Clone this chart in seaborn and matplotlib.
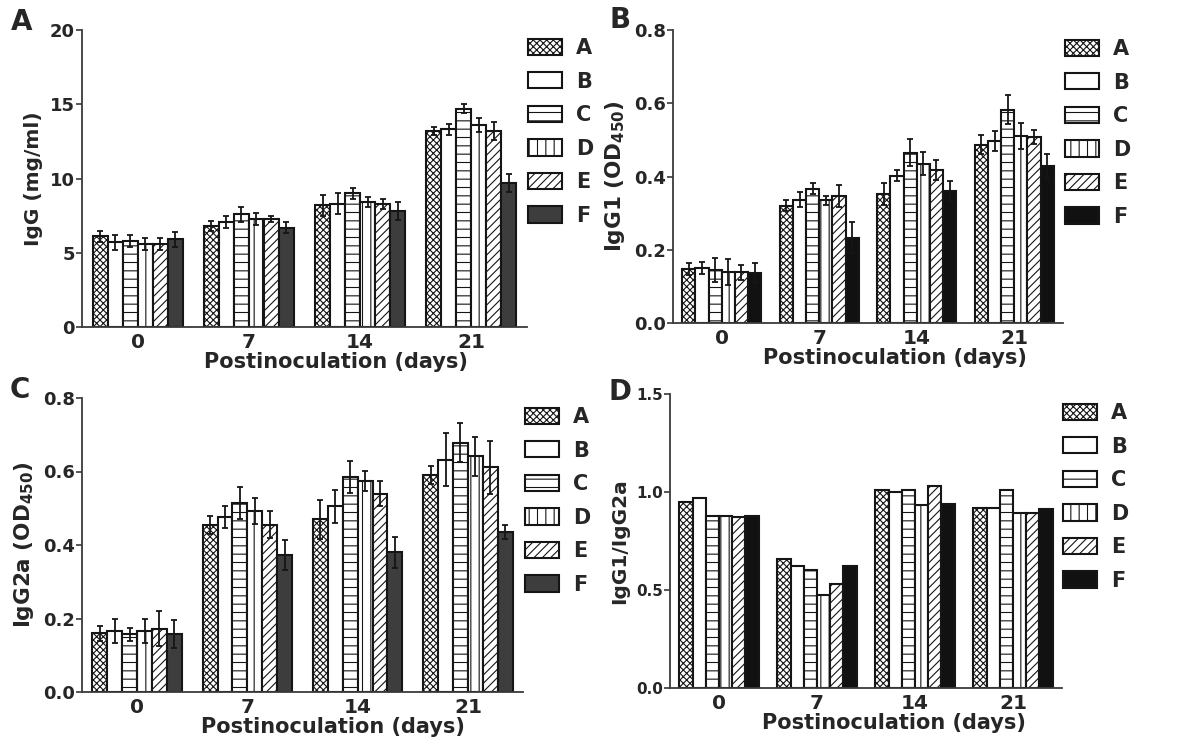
"""
Antibody responses after inoculation: IgG, IgG1, IgG2a and IgG1/IgG2a ratio
for six groups (A-F) at days 0, 7, 14 and 21.
"""

import numpy as np
import pandas as pd
import matplotlib
matplotlib.use("Agg")
import matplotlib.pyplot as plt
from matplotlib.patches import Patch
import seaborn as sns

# === Data ===
days = ["0", "7", "14", "21"]
groups = ["A", "B", "C", "D", "E", "F"]

# rows = groups A..F, columns = days 0, 7, 14, 21
igg_mean = [[6.1, 6.8, 8.2, 13.2],
            [5.7, 7.1, 8.3, 13.3],
            [5.8, 7.6, 9.0, 14.7],
            [5.6, 7.3, 8.4, 13.6],
            [5.6, 7.3, 8.3, 13.2],
            [5.9, 6.7, 7.8, 9.7]]
igg_err = [[0.35, 0.35, 0.7, 0.3],
           [0.5, 0.4, 0.7, 0.4],
           [0.4, 0.5, 0.35, 0.3],
           [0.4, 0.4, 0.35, 0.45],
           [0.4, 0.2, 0.35, 0.6],
           [0.5, 0.4, 0.6, 0.6]]

igg1_mean = [[0.148, 0.320, 0.352, 0.487],
             [0.150, 0.337, 0.402, 0.497],
             [0.145, 0.367, 0.465, 0.582],
             [0.140, 0.335, 0.435, 0.510],
             [0.138, 0.347, 0.418, 0.508],
             [0.137, 0.233, 0.360, 0.428]]
igg1_err = [[0.017, 0.015, 0.030, 0.025],
            [0.017, 0.020, 0.015, 0.028],
            [0.033, 0.015, 0.037, 0.040],
            [0.035, 0.012, 0.032, 0.035],
            [0.020, 0.030, 0.027, 0.020],
            [0.027, 0.043, 0.027, 0.033]]

igg2a_mean = [[0.160, 0.455, 0.470, 0.590],
              [0.167, 0.475, 0.505, 0.632],
              [0.157, 0.515, 0.585, 0.678],
              [0.167, 0.492, 0.575, 0.642],
              [0.172, 0.455, 0.540, 0.612],
              [0.158, 0.373, 0.380, 0.435]]
igg2a_err = [[0.020, 0.025, 0.053, 0.025],
             [0.033, 0.030, 0.045, 0.072],
             [0.017, 0.043, 0.043, 0.053],
             [0.033, 0.035, 0.027, 0.053],
             [0.048, 0.037, 0.035, 0.072],
             [0.037, 0.040, 0.043, 0.020]]

ratio_mean = [[0.95, 0.66, 1.01, 0.92],
              [0.97, 0.625, 1.00, 0.92],
              [0.88, 0.60, 1.01, 1.01],
              [0.88, 0.475, 0.935, 0.895],
              [0.875, 0.53, 1.03, 0.895],
              [0.88, 0.62, 0.94, 0.915]]

# === Style ===
sns.set_style("ticks")
plt.rcParams["font.family"] = ["DejaVu Sans"]
plt.rcParams["font.weight"] = "bold"
plt.rcParams["axes.labelweight"] = "bold"
plt.rcParams["mathtext.fontset"] = "dejavusans"
plt.rcParams["hatch.linewidth"] = 0.8

hatches = ["xxxxx", "", "--", "||", "////", ""]
EDGE = "#151515"
AXC = "#3a3a3a"


def long_df(vals):
    return pd.DataFrame({
        "day": np.tile(days, len(groups)),
        "group": np.repeat(groups, len(days)),
        "value": np.ravel(vals),
    })


def draw_panel(ax, vals, errs, ymax, yticks, ylabel, fcolor, tick_fs=13,
               ylab_fs=14.5):
    colors = {g: "white" for g in groups[:-1]}
    colors["F"] = fcolor
    sns.barplot(data=long_df(vals), x="day", y="value", hue="group",
                order=days, hue_order=groups, palette=colors,
                width=0.81, errorbar=None, edgecolor=EDGE, linewidth=1.5,
                legend=False, ax=ax)

    bar_conts = list(ax.containers)
    for gi, cont in enumerate(bar_conts):
        bars = sorted(cont.patches, key=lambda b: b.get_x())
        for bar in bars:
            bar.set_hatch(hatches[gi])
        if errs is not None:
            xs = [b.get_x() + b.get_width() / 2 for b in bars]
            hs = [b.get_height() for b in bars]
            ax.errorbar(xs, hs, yerr=errs[gi], fmt="none", ecolor=EDGE,
                        elinewidth=1.3, capsize=2.5, capthick=1.3, zorder=3)

    ax.set_xlim(-0.5, 3.5)
    ax.set_ylim(0, ymax)
    ax.set_yticks(yticks)
    ax.set_xlabel("Postinoculation (days)", fontsize=15, labelpad=0, x=0.57)
    ax.set_ylabel(ylabel, fontsize=ylab_fs, labelpad=5)
    ax.tick_params(axis="x", length=0, pad=4, labelsize=14.5)
    ax.tick_params(axis="y", length=4, width=1.2, color=AXC, pad=1,
                   labelsize=tick_fs)
    for s in ["top", "right"]:
        ax.spines[s].set_visible(False)
    for s in ["left", "bottom"]:
        ax.spines[s].set_linewidth(1.3)
        ax.spines[s].set_color(AXC)

    handles = [Patch(facecolor=colors[g], edgecolor=EDGE, hatch=h,
                     linewidth=1.5, label=g) for g, h in zip(groups, hatches)]
    return handles


fig = plt.figure(figsize=(11.92, 7.45), dpi=100)
W, H = 1192.0, 745.0


def axes_px(left, top, right, bottom):
    return fig.add_axes([left / W, 1 - bottom / H, (right - left) / W,
                         (bottom - top) / H])


ax_a = axes_px(82, 30, 527, 327)
ax_b = axes_px(673, 30, 1063, 323)
ax_c = axes_px(82, 398, 523, 692)
ax_d = axes_px(670, 394, 1062, 688)

panels = [
    (ax_a, igg_mean, igg_err, 20, [0, 5, 10, 15, 20], "IgG (mg/ml)",
     "#3d3d3d", 13, 14.5, "0", (528, 38), (22, 22), "A"),
    (ax_b, igg1_mean, igg1_err, 0.8, [0.0, 0.2, 0.4, 0.6, 0.8],
     r"IgG1 (OD$_{\mathbf{450}}$)", "#111111", 13, 15.5, "0.0",
     (1065, 39), (620, 20), "B"),
    (ax_c, igg2a_mean, igg2a_err, 0.8, [0.0, 0.2, 0.4, 0.6, 0.8],
     r"IgG2a (OD$_{\mathbf{450}}$)", "#3d3d3d", 13, 15.5, "0.0",
     (525, 407), (20, 390), "C"),
    (ax_d, ratio_mean, None, 1.5, [0.0, 0.5, 1.0, 1.5], "IgG1/IgG2a",
     "#111111", 11, 14.5, "0.0", (1063, 403), (620, 392), "D"),
]

for (ax, vals, errs, ymax, yt, ylab, fc, tfs, yfs, fmt, leg_xy, let_xy,
     letter) in panels:
    handles = draw_panel(ax, vals, errs, ymax, yt, ylab, fc, tick_fs=tfs,
                         ylab_fs=yfs)
    if fmt == "0":
        ax.set_yticklabels([f"{v:.0f}" for v in yt])
    else:
        ax.set_yticklabels([f"{v:.1f}" for v in yt])
    fig.legend(handles=handles, loc="upper left",
               bbox_to_anchor=(leg_xy[0] / W, 1 - leg_xy[1] / H),
               frameon=False, fontsize=15, handlelength=1.63,
               handleheight=0.82, labelspacing=0.65, handletextpad=0.67,
               borderpad=0, borderaxespad=0)
    fig.text(let_xy[0] / W, 1 - let_xy[1] / H, letter, fontsize=20,
             fontweight="bold", ha="center", va="center")

fig.savefig("out.png", dpi=100)
